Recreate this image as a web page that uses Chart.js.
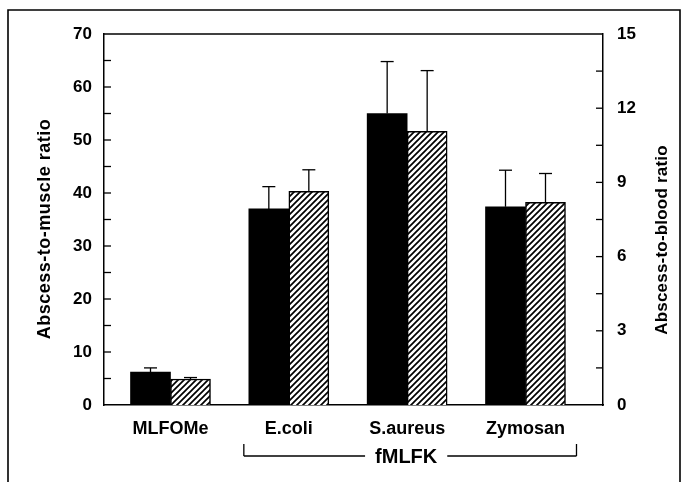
<!DOCTYPE html>
<html><head><meta charset="utf-8">
<script src="https://cdn.jsdelivr.net/npm/chart.js@4"></script>
<style>html,body{margin:0;padding:0;background:#fff;} canvas{display:block;}</style>
</head><body>
<canvas id="c" width="688" height="482"></canvas>
<script>
const categories = ['MLFOMe', 'E.coli', 'S.aureus', 'Zymosan'];
const muscleRatio = [6.2, 37.0, 55.0, 37.4];     // black bars, left axis
const muscleErr   = [0.8, 4.2, 9.8, 6.9];
const bloodRatio  = [1.05, 8.64, 11.06, 8.19];   // hatched bars, right axis
const bloodErr    = [0.06, 0.87, 2.46, 1.17];
const leftTicks  = [0, 10, 20, 30, 40, 50, 60, 70];
const rightTicks = [0, 3, 6, 9, 12, 15];
const groupLabel = 'fMLFK';
const leftTitle  = 'Abscess-to-muscle ratio';
const rightTitle = 'Abscess-to-blood ratio';

const FONT_FAMILY = '"Liberation Sans", Arial, Helvetica, sans-serif';
const tickFont = {family: FONT_FAMILY, size: 17, weight: 'bold'};
const catFont = {family: FONT_FAMILY, size: 18, weight: 'bold'};

function hatchPattern(ctx) {
  const s = 6, c = document.createElement('canvas');
  c.width = s; c.height = s;
  const g = c.getContext('2d');
  g.fillStyle = '#fff'; g.fillRect(0, 0, s, s);
  g.strokeStyle = '#000'; g.lineWidth = 1.7;
  g.beginPath();
  g.moveTo(-1, 1); g.lineTo(1, -1);
  g.moveTo(0, s); g.lineTo(s, 0);
  g.moveTo(s - 1, s + 1); g.lineTo(s + 1, s - 1);
  g.stroke();
  return ctx.createPattern(c, 'repeat');
}

const canvas = document.getElementById('c');
const ctx0 = canvas.getContext('2d');

function line(ctx, x1, y1, x2, y2) { ctx.beginPath(); ctx.moveTo(x1, y1); ctx.lineTo(x2, y2); ctx.stroke(); }

const deco = {
  id: 'deco',
  afterDatasetsDraw(chart) {
    const ctx = chart.ctx;
    ctx.save();
    ctx.strokeStyle = '#000'; ctx.lineWidth = 1.3;
    [[0, chart.scales.y, muscleRatio, muscleErr], [1, chart.scales.y1, bloodRatio, bloodErr]].forEach(([di, sc, vals, errs]) => {
      const meta = chart.getDatasetMeta(di);
      meta.data.forEach((bar, i) => {
        const x = bar.x, yb = sc.getPixelForValue(vals[i]), yt = sc.getPixelForValue(vals[i] + errs[i]);
        line(ctx, x, yb, x, yt);
        line(ctx, x - 6.5, yt, x + 6.5, yt);
      });
    });
    ctx.restore();
  },
  afterDraw(chart) {
    const ctx = chart.ctx, a = chart.chartArea;
    const sy = chart.scales.y, sy1 = chart.scales.y1, sx = chart.scales.x;
    ctx.save();
    ctx.strokeStyle = '#000'; ctx.fillStyle = '#000';
    // outer frame
    ctx.lineWidth = 1.6;
    ctx.beginPath(); ctx.moveTo(8, 482); ctx.lineTo(8, 10); ctx.lineTo(680, 10); ctx.lineTo(680, 482); ctx.stroke();
    // top border of plot
    ctx.lineWidth = 1.5;
    line(ctx, a.left, a.top, a.right, a.top);
    // inward ticks
    ctx.lineWidth = 1.3;
    for (let v = 5; v < sy.max; v += 5) { const y = sy.getPixelForValue(v); line(ctx, a.left, y, a.left + 7, y); }
    for (let v = 1.5; v < sy1.max; v += 1.5) { const y = sy1.getPixelForValue(v); line(ctx, a.right - 7, y, a.right, y); }
    // bracket with group label
    ctx.font = 'bold 20px ' + FONT_FAMILY;
    const xl = sx.getPixelForValue(1) - 45, xr = sx.getPixelForValue(3) + 51, yb = 456, mid = (xl + xr) / 2 - 4;
    const w = ctx.measureText(groupLabel).width;
    ctx.lineWidth = 1.3;
    line(ctx, xl, yb - 12, xl, yb); line(ctx, xl, yb, mid - w / 2 - 10, yb);
    line(ctx, mid + w / 2 + 10, yb, xr, yb); line(ctx, xr, yb, xr, yb - 12);
    ctx.textAlign = 'center'; ctx.textBaseline = 'middle';
    ctx.fillText(groupLabel, mid, yb + 1);
    // axis titles (both read bottom-to-top)
    [[leftTitle, 45, 229, 18, '0.5px'], [rightTitle, 662, 240, 17, '0.2px']].forEach(([t, x, y, size, ls]) => {
      ctx.save(); ctx.translate(x, y); ctx.rotate(-Math.PI / 2);
      ctx.font = 'bold ' + size + 'px ' + FONT_FAMILY;
      if ('letterSpacing' in ctx) ctx.letterSpacing = ls;
      ctx.fillText(t, 0, 0);
      if ('letterSpacing' in ctx) ctx.letterSpacing = '0px';
      ctx.restore();
    });
    ctx.restore();
  }
};

new Chart(canvas, {
  type: 'bar',
  data: {
    datasets: [
      {
        label: 'Abscess-to-muscle ratio',
        data: muscleRatio.map((v, i) => ({x: i, y: v})),
        backgroundColor: '#000', borderWidth: 0,
        yAxisID: 'y', barThickness: 40
      },
      {
        label: 'Abscess-to-blood ratio',
        data: bloodRatio.map((v, i) => ({x: i, y: v})),
        backgroundColor: hatchPattern(ctx0), borderColor: '#000', borderWidth: 1.5,
        yAxisID: 'y1', barThickness: 40
      }
    ]
  },
  options: {
    responsive: false, animation: false, devicePixelRatio: 1,
    layout: {padding: {top: 34, left: 0, right: 0, bottom: 0}},
    plugins: {legend: {display: false}, tooltip: {enabled: false}},
    scales: {
      x: {
        type: 'linear', min: -0.562, max: 3.655, offset: false,
        afterBuildTicks: s => { s.ticks = categories.map((_, i) => ({value: i})); },
        ticks: {callback: v => categories[v], font: catFont, color: '#000', padding: 13, maxRotation: 0, autoSkip: false},
        grid: {display: false, drawTicks: false},
        border: {display: true, color: '#000', width: 1.5},
        afterFit: s => { s.height = 77; }
      },
      y: {
        position: 'left', min: 0, max: 70,
        afterBuildTicks: s => { s.ticks = leftTicks.map(v => ({value: v})); },
        ticks: {font: tickFont, color: '#000', padding: 12},
        grid: {display: false, drawTicks: false},
        border: {display: true, color: '#000', width: 1.5},
        afterFit: s => { s.width = 104; }
      },
      y1: {
        position: 'right', min: 0, max: 15,
        afterBuildTicks: s => { s.ticks = rightTicks.map(v => ({value: v})); },
        ticks: {font: tickFont, color: '#000', padding: 14},
        grid: {display: false, drawTicks: false},
        border: {display: true, color: '#000', width: 1.5},
        afterFit: s => { s.width = 85; }
      }
    }
  },
  plugins: [deco]
});
</script>
</body></html>
